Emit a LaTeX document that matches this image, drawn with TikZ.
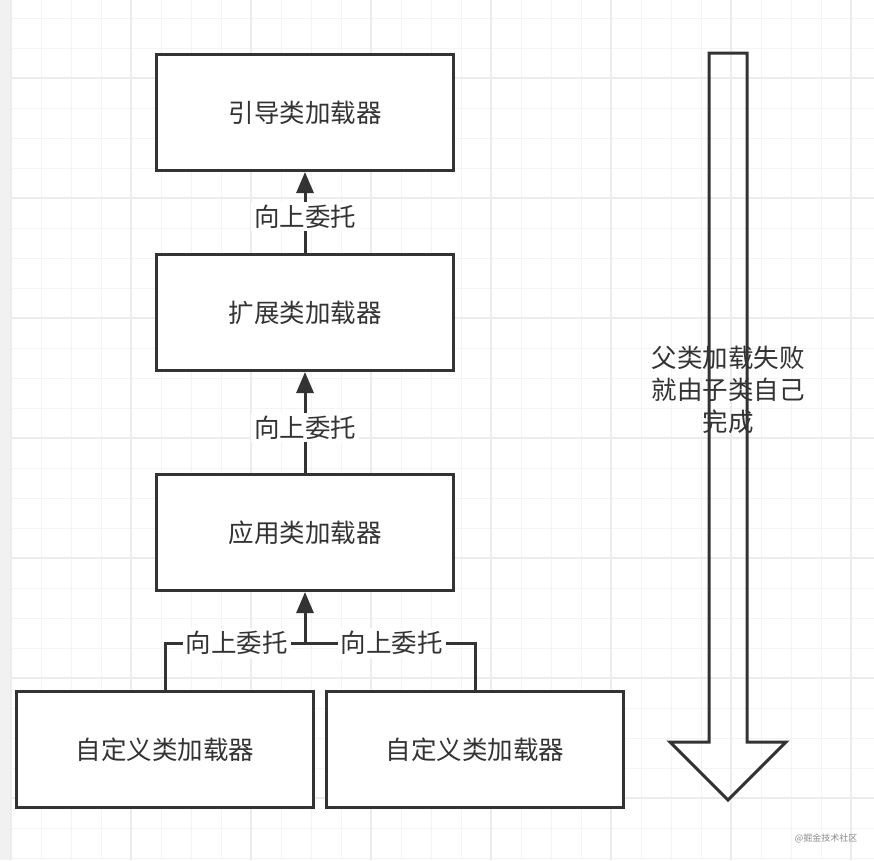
\documentclass[tikz,border=0pt]{standalone}
\usepackage{fontspec}
\setmainfont{Noto Sans CJK SC}
\usepackage{xcolor}
\usepackage{tikz}
\usetikzlibrary{arrows.meta, positioning, calc}
\definecolor{inkdark}{HTML}{333333}
\definecolor{gridsoft}{HTML}{F4F4F4}
\definecolor{gridmajor}{HTML}{ECECEC}
\definecolor{stripgray}{HTML}{F1F1F1}
\definecolor{markgray}{HTML}{8A8A8A}
\tikzset{
  lbl/.style={font=\fontsize{25.5}{32}\selectfont, text=inkdark},
  tag/.style={lbl, fill=white, inner sep=3pt},
  loader/.style={draw=inkdark, line width=3pt, fill=white, minimum width=297pt,
                 minimum height=116pt, inner sep=0pt, font=\fontsize{25.5}{32}\selectfont,
                 text=inkdark},
  flow/.style={-{Triangle[length=21pt, width=17pt]}, line width=3pt, color=inkdark},
  link/.style={line width=3pt, color=inkdark},
  gridline/.style={gridsoft, line width=1pt},
  gridbold/.style={gridmajor, line width=1.2pt},
}

\begin{document}
\begin{tikzpicture}[x=1pt, y=-1pt]
    \useasboundingbox (0,0) rectangle (874,860);
    % background grid
    \fill[white] (0,0) rectangle (874,860);
    \foreach \gx in {11,41,...,851} \draw[gridline] (\gx,0) -- (\gx,860);
    \foreach \gy in {18,48,...,858} \draw[gridline] (0,\gy) -- (874,\gy);
    \foreach \gx in {11,131,...,851} \draw[gridbold] (\gx,0) -- (\gx,860);
    \foreach \gy in {78,198,...,798} \draw[gridbold] (0,\gy) -- (874,\gy);
    \fill[stripgray] (0,0) rectangle (10,860);

    % loaders
    \node[loader] (boot) at (305,112.5) {引导类加载器};
    \node[loader] (ext) at (305,312.5) {扩展类加载器};
    \node[loader] (app) at (305,532.5) {应用类加载器};
    \node[loader] (custa) at (165,749.5) {自定义类加载器};
    \node[loader] (custb) at (475,749.5) {自定义类加载器};
    \coordinate (join) at (305,643);

    % delegation upwards
    \draw[flow] (ext.north) -- (boot.south) node[pos=0.45, tag] {向上委托};
    \draw[flow] (app.north) -- (ext.south) node[pos=0.45, tag] {向上委托};
    \draw[flow] (join) -- (app.south);
    \draw[link] (custa.north) |- (join) node[pos=0.757, tag] {向上委托};
    \draw[link] (custb.north) |- (join) node[pos=0.745, tag] {向上委托};

    % fallback arrow
    \draw[inkdark, line width=3pt, line join=miter]
      (709,53) -- (747,53) -- (747,742) -- (786,742) -- (728,800)
      -- (670,742) -- (709,742) -- cycle;
    \node[lbl, align=center] (fallback) at (728,390) {父类加载失败\\就由子类自己\\完成};

    \node[font=\fontsize{9}{10}\selectfont, text=markgray] (mark) at (826,838) {@掘金技术社区};
  \end{tikzpicture}
\end{document}
